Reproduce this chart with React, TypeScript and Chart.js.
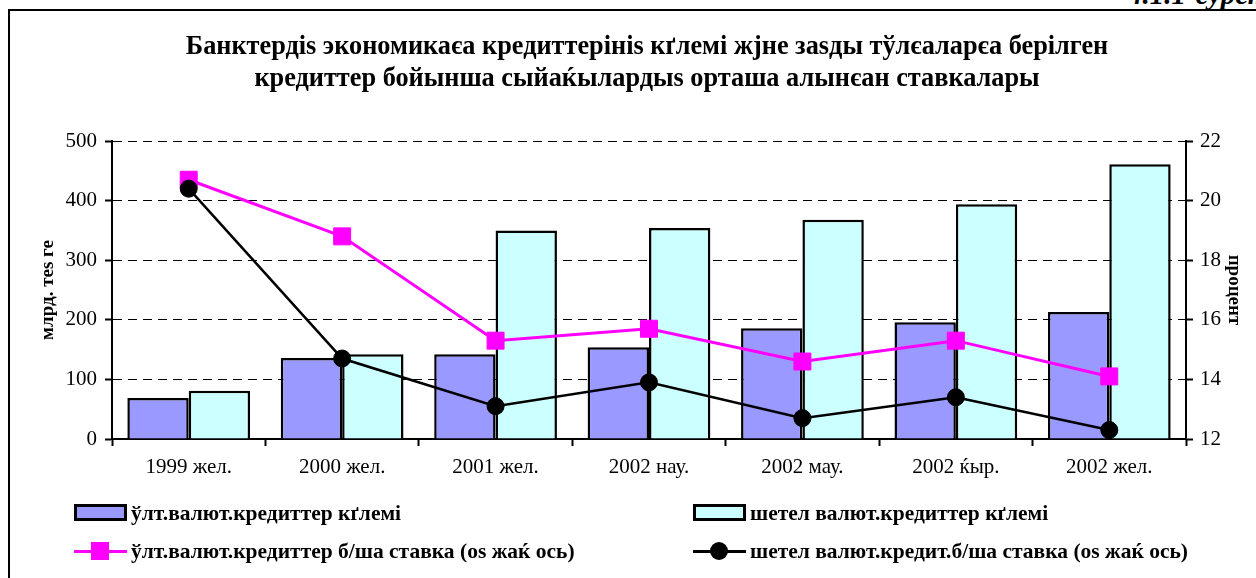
import React, { useEffect, useRef } from "react";
import { Chart, registerables } from "chart.js";

Chart.register(...registerables);

const categories = ["1999 жел.", "2000 жел.", "2001 жел.", "2002 нау.", "2002 мау.", "2002 ќыр.", "2002 жел."];
const nationalVolume = [69, 136, 142, 154, 186, 196, 213];
const foreignVolume = [81, 142, 350, 354, 368, 394, 461];
const nationalRate = [20.7, 18.8, 15.3, 15.7, 14.6, 15.3, 14.1];
const foreignRate = [20.4, 14.7, 13.1, 13.9, 12.7, 13.4, 12.3];

const titleLines = [
  "Банктердіѕ экономикаєа кредиттерініѕ кґлемі жјне заѕды тўлєаларєа берілген",
  "кредиттер бойынша сыйаќылардыѕ орташа алынєан ставкалары",
];
const seriesNames = [
  "ўлт.валют.кредиттер кґлемі",
  "шетел валют.кредиттер кґлемі",
  "ўлт.валют.кредиттер б/ша ставка (оѕ жаќ ось)",
  "шетел валют.кредит.б/ша ставка (оѕ жаќ ось)",
];
const leftAxisTitle = "млрд. теѕ ге";
const rightAxisTitle = "процент";
const figureLabel = "4.1.1-сурет";

const SERIF = '"Liberation Serif", "Times New Roman", serif';
const BLUE = "#9999FF";
const CYAN = "#CCFFFF";
const MAGENTA = "#FF00FF";

export default function App() {
  const ref = useRef<HTMLCanvasElement>(null);

  useEffect(() => {
    const tickFont = { family: SERIF, size: 21 };
    const chart = new Chart(ref.current as HTMLCanvasElement, {
      type: "bar",
      data: {
        labels: categories,
        datasets: [
          {
            type: "line",
            label: seriesNames[3],
            data: foreignRate,
            yAxisID: "yR",
            borderColor: "#000",
            backgroundColor: "#000",
            borderWidth: 2.5,
            pointStyle: "circle",
            pointRadius: 8.5,
            pointBorderWidth: 1,
            order: 0,
          } as any,
          {
            type: "line",
            label: seriesNames[2],
            data: nationalRate,
            yAxisID: "yR",
            borderColor: MAGENTA,
            backgroundColor: MAGENTA,
            borderWidth: 3,
            pointStyle: "rect",
            pointRadius: 12,
            pointBorderWidth: 1,
            order: 1,
          } as any,
          {
            type: "bar",
            label: seriesNames[0],
            data: nationalVolume,
            yAxisID: "y",
            backgroundColor: BLUE,
            borderColor: "#000",
            borderWidth: 2.5,
            categoryPercentage: 0.8,
            barPercentage: 1,
            order: 2,
          } as any,
          {
            type: "bar",
            label: seriesNames[1],
            data: foreignVolume,
            yAxisID: "y",
            backgroundColor: CYAN,
            borderColor: "#000",
            borderWidth: 2.5,
            categoryPercentage: 0.8,
            barPercentage: 1,
            order: 2,
          } as any,
        ],
      },
      options: {
        responsive: false,
        animation: false,
        events: [],
        layout: { padding: { left: 8, right: 0, top: 141, bottom: 0 } },
        plugins: {
          legend: { display: false },
          title: { display: false },
          tooltip: { enabled: false },
        },
        scales: {
          x: {
            offset: true,
            grid: {
              offset: true,
              drawOnChartArea: false,
              drawTicks: true,
              tickLength: 7,
              tickWidth: 2,
              tickColor: "#000",
            },
            border: { color: "#000", width: 2 },
            ticks: { color: "#000", font: tickFont, padding: 9, maxRotation: 0, autoSkip: false },
            afterFit: (s: any) => {
              s.height = 139;
            },
          },
          y: {
            position: "left",
            min: 0,
            max: 500,
            ticks: { stepSize: 100, color: "#000", font: tickFont, padding: 8 },
            grid: {
              color: "#000",
              lineWidth: 1,
              drawTicks: true,
              tickLength: 7,
              tickWidth: 2,
              tickColor: "#000",
            },
            border: { color: "#000", width: 2, dash: [9, 6] },
            title: {
              display: true,
              text: leftAxisTitle,
              color: "#000",
              font: { family: SERIF, size: 19, weight: "bold" },
              padding: { top: 29, bottom: 0 },
            },
            afterFit: (s: any) => {
              s.width = 104;
            },
          },
          yR: {
            position: "right",
            min: 12,
            max: 22,
            ticks: { stepSize: 2, color: "#000", font: tickFont, padding: 7 },
            grid: {
              drawOnChartArea: false,
              drawTicks: true,
              tickLength: 7,
              tickWidth: 2,
              tickColor: "#000",
            },
            border: { color: "#000", width: 2 },
            title: {
              display: true,
              text: rightAxisTitle,
              color: "#000",
              font: { family: SERIF, size: 19, weight: "bold" },
              padding: { top: 11, bottom: 0 },
            },
            afterFit: (s: any) => {
              s.width = 70;
            },
          },
        },
      } as any,
    });
    return () => chart.destroy();
  }, []);

  const legendText: React.CSSProperties = {
    position: "absolute",
    fontFamily: SERIF,
    fontWeight: "bold",
    fontSize: 21.5,
    lineHeight: "24px",
    whiteSpace: "nowrap",
    color: "#000",
  };

  const box = (left: number, color: string) => (
    <div
      style={{
        position: "absolute",
        left,
        top: 504,
        width: 53,
        height: 17,
        boxSizing: "border-box",
        border: "3px solid #000",
        background: color,
      }}
    />
  );

  return (
    <div
      style={{
        position: "fixed",
        left: 0,
        top: 0,
        width: 1256,
        height: 578,
        overflow: "hidden",
        background: "#fff",
      }}
    >
      <div
        style={{
          position: "absolute",
          left: 1128,
          top: -20,
          fontFamily: SERIF,
          fontStyle: "italic",
          fontWeight: "bold",
          fontSize: 29,
          lineHeight: "29px",
          whiteSpace: "nowrap",
        }}
      >
        {figureLabel}
      </div>
      <div
        style={{
          position: "absolute",
          left: 8,
          top: 9,
          width: 1400,
          height: 800,
          borderTop: "2px solid #000",
          borderLeft: "2px solid #000",
          background: "transparent",
        }}
      />
      <canvas
        ref={ref}
        width={1256}
        height={578}
        style={{ position: "absolute", left: 0, top: 0, width: 1256, height: 578, display: "block" }}
      />
      <div
        style={{
          position: "absolute",
          left: 0,
          top: 30,
          width: 1294,
          textAlign: "center",
          fontFamily: SERIF,
          fontWeight: "bold",
          fontSize: 26.3,
          lineHeight: "32px",
          color: "#000",
        }}
      >
        <div>{titleLines[0]}</div>
        <div>{titleLines[1]}</div>
      </div>

      {box(74, BLUE)}
      <div style={{ ...legendText, left: 131, top: 501 }}>{seriesNames[0]}</div>
      {box(693, CYAN)}
      <div style={{ ...legendText, left: 750, top: 501 }}>{seriesNames[1]}</div>

      <div style={{ position: "absolute", left: 74, top: 549.5, width: 53, height: 3, background: MAGENTA }} />
      <div style={{ position: "absolute", left: 91, top: 542, width: 18, height: 18, background: MAGENTA }} />
      <div style={{ ...legendText, left: 131, top: 539 }}>{seriesNames[2]}</div>

      <div style={{ position: "absolute", left: 693, top: 549.5, width: 53, height: 3, background: "#000" }} />
      <div
        style={{ position: "absolute", left: 710, top: 542, width: 18, height: 18, borderRadius: "50%", background: "#000" }}
      />
      <div style={{ ...legendText, left: 750, top: 539 }}>{seriesNames[3]}</div>
    </div>
  );
}
